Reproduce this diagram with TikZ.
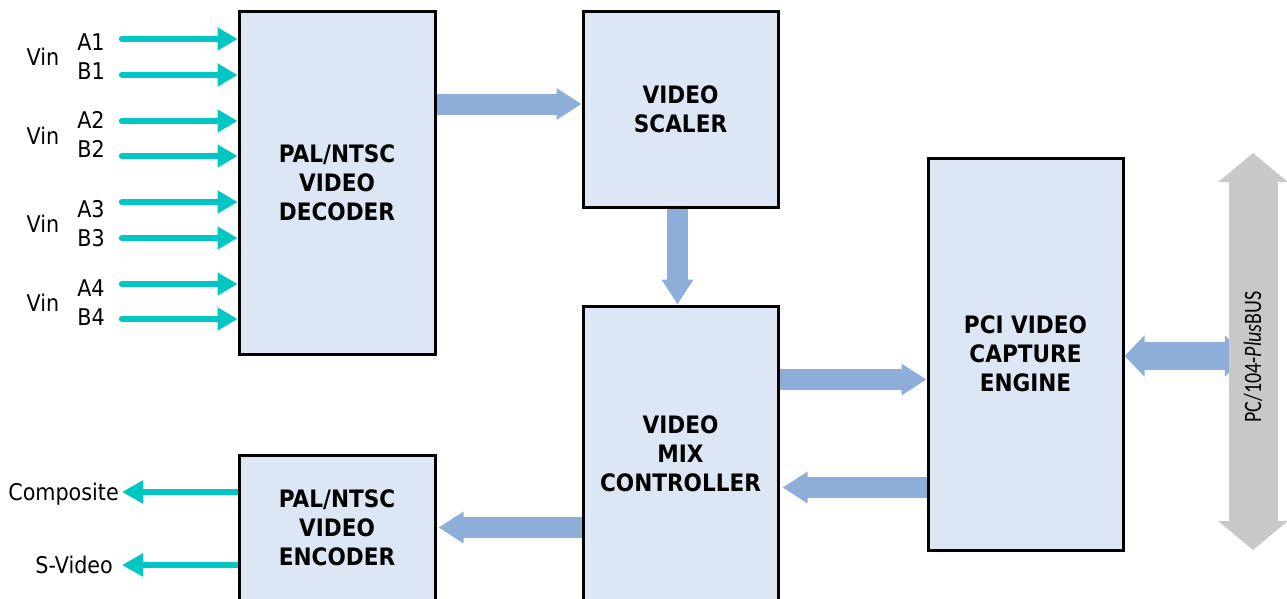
\documentclass[tikz,border=0pt]{standalone}
\usepackage{fontspec}
\setmainfont[FakeStretch=0.9]{DejaVu Sans}
\newfontfamily\busfont[FakeStretch=0.8]{Carlito}
\usetikzlibrary{arrows.meta}
\definecolor{blockfill}{RGB}{220,230,245}
\definecolor{fatblue}{RGB}{141,174,216}
\definecolor{feedteal}{RGB}{0,198,196}
\definecolor{busgray}{RGB}{200,200,200}
\tikzset{
  block/.style={draw=black,line width=3pt,fill=blockfill,align=center,inner sep=0pt,
    font=\fontsize{24}{29}\selectfont\bfseries},
  fat/.style={draw=fatblue,line width=21pt,-{Triangle[length=25pt,width=30pt]}},
  fatboth/.style={draw=fatblue,line width=28pt,
    {Triangle[length=20pt,width=40pt]}-{Triangle[length=20pt,width=40pt]}},
  bus/.style={draw=busgray,line width=49pt,
    {Triangle[length=29pt,width=68pt]}-{Triangle[length=29pt,width=68pt]}},
  feed/.style={draw=feedteal,line width=6.5pt,line cap=round,-{Triangle[length=20pt,width=22pt]}},
  feedout/.style={draw=feedteal,line width=6.5pt,-{Triangle[length=21pt,width=22pt]}},
  lbl/.style={font=\fontsize{23}{26}\selectfont,inner sep=0pt,text depth=0pt}
}
\newcommand{\vblock}[6]{
\node [block,minimum width=#4pt,minimum height=#5pt] (#1) at (#2,#3) {#6};
}

\begin{document}
\begin{tikzpicture}[x=1pt,y=-1pt]
\useasboundingbox (0,0) rectangle (1287,598);
\fill[white] (0,0) rectangle (1287,598);
\vblock{decoder}{337}{182.5}{196}{343}{PAL/NTSC\\VIDEO\\DECODER}
\vblock{scaler}{680.5}{109}{195}{196}{VIDEO\\SCALER}
\vblock{mix}{680.5}{454}{195}{296}{VIDEO\\MIX\\CONTROLLER}
\vblock{pci}{1025.5}{354}{195}{392}{PCI VIDEO\\CAPTURE\\ENGINE}
\vblock{encoder}{337}{528}{196}{146}{PAL/NTSC\\VIDEO\\ENCODER}

\draw[fat] (decoder.east |- 0,104) -- (scaler.west |- 0,104);
\draw[fat] ([xshift=-3pt]scaler.south) -- ([xshift=-3pt]mix.north);
\draw[fat] (mix.east |- 0,379.5) -- (pci.west |- 0,379.5);
\draw[fat] (pci.west |- 0,487.5) -- ([xshift=3pt]mix.east |- 0,487.5);
\draw[fat] (mix.west |- 0,527.5) -- ([xshift=2pt]encoder.east |- 0,527.5);

\foreach \i/\y in {1/39,2/75,3/121,4/156,5/202,6/238,7/284,8/319}{
  \coordinate (in\i) at (122,\y);
  \draw[feed] (in\i) -- (in\i -| decoder.west);
}
\foreach \i/\y in {1/57,2/136,3/224,4/303}
  \node[lbl] (vin\i) at (43,\y) {Vin};
\foreach \n/\y in {A1/42,B1/71,A2/120,B2/149,A3/209,B3/238,A4/288,B4/317}
  \node[lbl] (\n) at (91,\y) {\n};

\coordinate (compout) at (122,492);
\coordinate (svidout) at (122,565);
\draw[feedout] (compout -| encoder.west) -- (compout);
\draw[feedout] (svidout -| encoder.west) -- (svidout);
\node[lbl,anchor=east] (complbl) at ([xshift=-3pt]compout) {Composite};
\node[lbl,anchor=east] (svidlbl) at ([xshift=-9pt]svidout) {S-Video};

\coordinate (busport) at (1245,356);
\coordinate (bustop) at (1253,153);
\coordinate (busbot) at (1253,550);
\draw[fatboth] (pci.east |- busport) -- (busport);
\draw[bus] (bustop) -- (busbot);
\node[rotate=90,inner sep=0pt,font=\busfont\fontsize{25}{27}\selectfont] (buslbl) at (1253,357)
  {PC/104-\textit{Plus}BUS};
\end{tikzpicture}
\end{document}
